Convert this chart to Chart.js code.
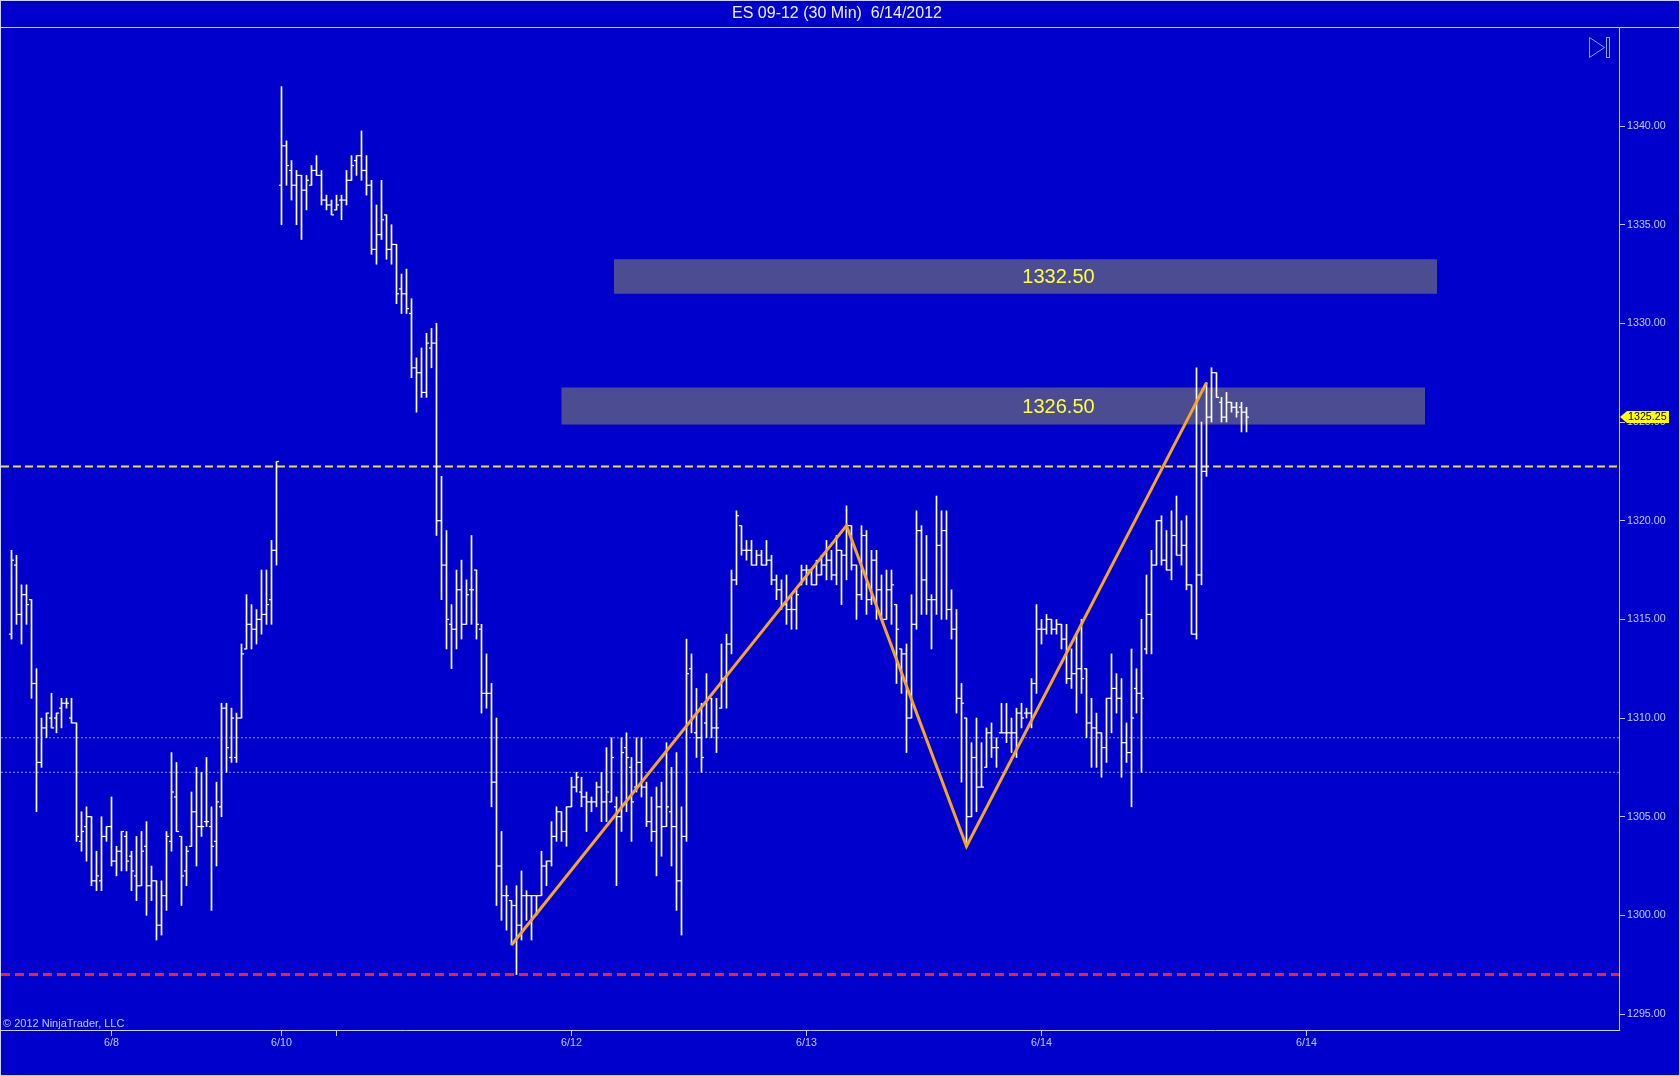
<!DOCTYPE html>
<html>
<head>
<meta charset="utf-8">
<title>ES 09-12 (30 Min) 6/14/2012</title>
<script src="https://cdn.jsdelivr.net/npm/chart.js@4.4.1/dist/chart.umd.min.js"></script>
<style>
    html, body { margin: 0; padding: 0; background: #0000cd; }
    #wrap { width: 1680px; height: 1076px; }
</style>
</head>
<body>
<div id="wrap"><canvas id="myChart" width="1680" height="1076"></canvas></div>
<script>
// 30 min bars, index 0 = first bar on the chart
const opens = [
    1314.25, 1317.75, 1315.25, 1316.25, 1316.0, 1311.75, 1307.75, 1309.5, 1310.0, 1310.0,
    1310.5, 1310.75, 1310.0, 1309.75, 1303.75, 1304.5, 1305.0, 1301.75, 1301.75, 1304.0,
    1304.5, 1302.75, 1303.25, 1304.0, 1303.0, 1302.0, 1301.5, 1303.5, 1301.5, 1301.75,
    1299.5, 1301.0, 1303.75, 1306.0, 1304.0, 1302.25, 1303.5, 1305.25, 1304.5, 1304.75,
    1304.5, 1303.75, 1305.5, 1310.5, 1308.0, 1308.0, 1310.0, 1313.5, 1314.75, 1314.5,
    1315.0, 1315.25, 1316.0, 1318.5, 1337.0, 1339.0, 1337.75, 1337.0, 1337.5, 1336.75,
    1337.0, 1337.75, 1337.5, 1336.25, 1336.0, 1335.75, 1336.25, 1336.25, 1337.25, 1338.25,
    1338.5, 1337.75, 1337.0, 1333.75, 1334.5, 1335.5, 1333.75, 1334.0, 1331.75, 1331.5,
    1330.5, 1327.75, 1327.5, 1326.5, 1328.75, 1329.0, 1320.0, 1317.75, 1314.75, 1314.5,
    1316.5, 1314.75, 1316.5, 1317.5, 1314.5, 1311.25, 1311.25, 1306.75, 1302.5, 1301.0,
    1300.75, 1300.5, 1299.5, 1301.0, 1301.0, 1301.0, 1301.0, 1302.5, 1302.75, 1304.0,
    1305.25, 1304.25, 1305.5, 1306.5, 1306.25, 1306.0, 1305.75, 1305.75, 1306.5, 1305.75,
    1305.75, 1305.5, 1305.0, 1308.5, 1307.5, 1306.5, 1307.75, 1306.5, 1304.75, 1304.25,
    1305.5, 1304.5, 1305.25, 1304.5, 1301.75, 1304.0, 1312.5, 1309.25, 1309.0, 1309.75,
    1311.0, 1309.5, 1310.5, 1312.0, 1313.75, 1317.0, 1319.75, 1318.5, 1318.5, 1317.75,
    1318.25, 1317.75, 1318.0, 1317.0, 1316.5, 1315.75, 1315.5, 1315.5, 1316.75, 1317.5,
    1317.5, 1316.75, 1317.25, 1317.75, 1318.0, 1317.25, 1318.5, 1318.25, 1319.75, 1317.75,
    1316.25, 1319.25, 1316.0, 1318.0, 1316.5, 1315.0, 1316.5, 1315.75, 1313.5, 1313.25,
    1310.0, 1314.75, 1319.5, 1317.0, 1316.0, 1316.0, 1318.75, 1319.5, 1315.5, 1314.5,
    1311.0, 1310.0, 1305.0, 1308.0, 1306.5, 1307.5, 1309.25, 1308.5, 1309.25, 1309.25,
    1309.25, 1309.25, 1310.25, 1310.25, 1310.25, 1311.75, 1314.5, 1314.5, 1315.0, 1314.5,
    1314.75, 1314.0, 1312.0, 1312.25, 1312.5, 1312.5, 1309.75, 1309.5, 1309.25, 1308.5,
    1311.0, 1311.5, 1311.0, 1308.75, 1308.25, 1311.5, 1311.25, 1313.5, 1315.25, 1317.75,
    1320.0, 1318.0, 1317.5, 1319.25, 1318.25, 1318.75, 1316.75, 1314.25, 1317.25, 1322.5,
    1325.25, 1327.5, 1326.0, 1325.25, 1326.0, 1325.75, 1325.75, 1325.5
];
const highs = [
    1318.5, 1318.25, 1316.75, 1316.75, 1316.0, 1312.5, 1310.0, 1310.25, 1311.25, 1310.25,
    1311.0, 1311.0, 1311.0, 1309.75, 1305.25, 1305.5, 1305.0, 1303.25, 1305.0, 1304.5,
    1306.0, 1303.5, 1304.25, 1304.25, 1303.25, 1304.0, 1304.25, 1304.75, 1302.5, 1301.75,
    1301.75, 1304.25, 1308.25, 1307.75, 1304.0, 1303.5, 1306.25, 1307.5, 1307.25, 1308.0,
    1305.5, 1306.75, 1310.75, 1310.75, 1310.5, 1310.25, 1313.75, 1316.25, 1315.75, 1315.5,
    1317.5, 1317.5, 1319.0, 1323.0, 1342.0, 1339.25, 1338.25, 1337.75, 1337.5, 1337.5,
    1338.0, 1338.5, 1337.75, 1336.5, 1336.25, 1336.5, 1336.5, 1337.75, 1338.5, 1338.5,
    1339.75, 1338.5, 1337.25, 1336.0, 1337.25, 1335.5, 1335.0, 1334.0, 1332.5, 1332.75,
    1331.25, 1328.25, 1328.75, 1329.5, 1329.75, 1330.0, 1322.25, 1319.5, 1315.75, 1317.5,
    1318.0, 1317.0, 1319.25, 1317.5, 1314.75, 1313.25, 1311.75, 1310.0, 1304.25, 1301.5,
    1300.75, 1301.5, 1302.25, 1301.25, 1301.0, 1301.0, 1303.25, 1302.75, 1304.75, 1305.5,
    1305.25, 1305.5, 1307.0, 1307.25, 1307.0, 1306.25, 1306.0, 1306.75, 1307.25, 1308.5,
    1309.0, 1306.0, 1309.0, 1309.25, 1308.0, 1309.0, 1309.0, 1306.75, 1306.0, 1306.5,
    1306.75, 1308.75, 1307.5, 1308.25, 1305.5, 1314.0, 1313.25, 1311.5, 1310.75, 1312.25,
    1311.0, 1311.0, 1313.75, 1314.25, 1317.5, 1320.5, 1319.75, 1319.0, 1319.0, 1318.5,
    1318.5, 1319.0, 1318.25, 1317.25, 1317.0, 1317.25, 1316.25, 1316.5, 1317.75, 1317.75,
    1317.5, 1318.0, 1318.25, 1319.0, 1318.5, 1319.25, 1318.5, 1320.75, 1319.75, 1317.75,
    1319.75, 1319.5, 1318.5, 1318.5, 1317.25, 1317.5, 1317.5, 1315.75, 1313.5, 1313.75,
    1316.25, 1320.5, 1319.75, 1319.25, 1316.25, 1321.25, 1320.5, 1320.5, 1316.5, 1315.5,
    1311.75, 1310.0, 1308.75, 1310.0, 1308.75, 1309.5, 1309.75, 1309.0, 1310.75, 1310.75,
    1310.0, 1310.5, 1310.75, 1310.5, 1312.0, 1315.75, 1315.0, 1315.25, 1315.0, 1315.0,
    1314.75, 1314.75, 1313.5, 1314.25, 1315.0, 1312.5, 1311.0, 1310.25, 1309.25, 1311.0,
    1313.25, 1312.25, 1312.0, 1309.75, 1313.5, 1312.5, 1315.0, 1317.25, 1318.5, 1320.0,
    1320.25, 1319.5, 1320.5, 1321.25, 1320.0, 1320.25, 1316.75, 1327.75, 1325.0, 1327.0,
    1327.75, 1327.5, 1326.25, 1326.5, 1326.0, 1326.0, 1326.0, 1325.75
];
const lows = [
    1314.0, 1314.75, 1313.75, 1314.75, 1311.0, 1305.25, 1307.5, 1309.0, 1309.5, 1309.25,
    1309.5, 1310.5, 1309.75, 1303.75, 1303.25, 1302.75, 1301.5, 1301.25, 1301.25, 1303.75,
    1302.5, 1302.0, 1302.25, 1302.25, 1301.25, 1300.75, 1301.5, 1300.0, 1300.75, 1298.75,
    1299.0, 1300.25, 1303.25, 1304.25, 1300.5, 1301.5, 1303.5, 1302.5, 1304.0, 1304.5,
    1300.25, 1302.5, 1305.0, 1307.25, 1307.75, 1307.75, 1310.0, 1313.5, 1313.5, 1313.75,
    1314.25, 1314.75, 1314.75, 1317.75, 1335.0, 1337.0, 1336.25, 1335.0, 1334.25, 1335.75,
    1337.0, 1337.5, 1336.0, 1335.75, 1335.5, 1335.75, 1335.25, 1336.0, 1337.25, 1337.5,
    1337.25, 1336.5, 1333.5, 1333.0, 1334.25, 1333.25, 1333.0, 1331.0, 1330.5, 1330.5,
    1327.25, 1325.5, 1326.25, 1326.25, 1327.75, 1319.25, 1316.0, 1313.5, 1312.5, 1313.5,
    1314.0, 1314.75, 1314.75, 1314.0, 1310.25, 1310.5, 1305.5, 1300.5, 1299.75, 1299.25,
    1298.5, 1297.0, 1298.75, 1299.75, 1298.75, 1300.0, 1301.0, 1301.5, 1302.5, 1303.75,
    1303.75, 1303.5, 1305.5, 1306.25, 1305.5, 1304.25, 1305.25, 1305.5, 1304.75, 1304.75,
    1305.75, 1301.5, 1304.25, 1305.25, 1303.75, 1306.25, 1306.0, 1304.5, 1303.75, 1302.0,
    1303.0, 1304.5, 1302.5, 1300.25, 1299.0, 1303.75, 1309.25, 1308.0, 1307.25, 1309.0,
    1309.0, 1308.25, 1310.5, 1310.5, 1313.25, 1316.75, 1318.25, 1318.0, 1317.75, 1317.75,
    1317.75, 1317.75, 1316.75, 1316.0, 1315.5, 1314.75, 1314.5, 1314.5, 1316.75, 1316.75,
    1316.75, 1316.75, 1317.25, 1317.0, 1317.0, 1316.75, 1315.75, 1317.0, 1317.5, 1315.0,
    1316.0, 1315.25, 1315.75, 1315.0, 1315.0, 1315.0, 1314.75, 1311.75, 1311.25, 1308.25,
    1310.0, 1314.5, 1315.25, 1315.25, 1313.5, 1315.25, 1315.0, 1315.0, 1314.0, 1310.25,
    1306.75, 1303.5, 1305.0, 1305.25, 1306.5, 1307.5, 1308.0, 1307.5, 1309.25, 1308.75,
    1308.25, 1308.0, 1309.5, 1310.0, 1309.5, 1311.25, 1313.75, 1314.25, 1314.25, 1314.25,
    1313.5, 1311.75, 1311.5, 1310.25, 1311.25, 1309.0, 1307.5, 1307.5, 1307.0, 1307.75,
    1309.25, 1310.25, 1307.0, 1307.75, 1305.5, 1310.25, 1307.25, 1313.25, 1313.25, 1317.75,
    1317.75, 1317.5, 1317.0, 1318.25, 1317.75, 1316.5, 1314.25, 1314.0, 1316.75, 1322.25,
    1325.0, 1326.25, 1325.0, 1325.0, 1325.5, 1325.25, 1324.5, 1324.5
];
const closes = [
    1318.0, 1315.25, 1316.25, 1315.75, 1311.75, 1307.75, 1309.5, 1310.25, 1309.5, 1310.25,
    1310.75, 1310.75, 1309.75, 1304.0, 1304.25, 1305.0, 1301.75, 1302.0, 1304.0, 1304.5,
    1302.75, 1303.25, 1304.25, 1302.75, 1302.25, 1301.5, 1303.25, 1301.5, 1301.75, 1299.5,
    1301.0, 1304.0, 1306.25, 1304.25, 1302.0, 1303.25, 1305.25, 1304.5, 1304.5, 1304.75,
    1303.5, 1305.75, 1310.5, 1308.5, 1310.0, 1310.0, 1313.25, 1314.75, 1314.5, 1315.0,
    1315.25, 1315.75, 1318.5, 1323.0, 1339.0, 1338.0, 1337.0, 1337.5, 1336.75, 1337.25,
    1337.75, 1337.5, 1336.25, 1336.0, 1335.5, 1336.0, 1336.25, 1337.25, 1338.0, 1338.5,
    1337.75, 1337.0, 1333.75, 1334.5, 1335.25, 1333.75, 1334.0, 1331.5, 1331.5, 1330.75,
    1327.75, 1327.5, 1326.5, 1329.0, 1329.0, 1320.0, 1317.75, 1315.0, 1314.5, 1316.5,
    1314.75, 1316.25, 1316.5, 1314.75, 1311.25, 1311.25, 1306.75, 1302.5, 1301.0, 1301.0,
    1300.5, 1299.5, 1301.0, 1301.0, 1301.0, 1301.0, 1302.5, 1302.75, 1304.0, 1305.25,
    1304.25, 1305.5, 1306.5, 1307.0, 1306.0, 1305.75, 1305.75, 1306.5, 1305.75, 1306.25,
    1308.0, 1305.0, 1308.25, 1308.0, 1305.75, 1307.75, 1306.5, 1304.75, 1304.25, 1305.5,
    1304.5, 1305.5, 1304.5, 1301.75, 1304.0, 1312.25, 1310.0, 1309.0, 1308.0, 1311.0,
    1309.5, 1309.5, 1312.0, 1313.75, 1317.0, 1320.25, 1318.5, 1318.5, 1317.75, 1318.25,
    1317.75, 1318.0, 1317.0, 1316.5, 1315.75, 1315.5, 1315.5, 1316.25, 1317.5, 1317.5,
    1316.75, 1317.25, 1317.75, 1318.0, 1317.25, 1318.5, 1318.25, 1319.75, 1317.75, 1316.25,
    1319.25, 1316.0, 1318.0, 1316.5, 1315.0, 1316.5, 1316.75, 1314.5, 1313.25, 1310.0,
    1314.75, 1319.5, 1317.0, 1316.0, 1316.0, 1318.75, 1319.5, 1315.5, 1314.5, 1311.0,
    1310.75, 1305.0, 1308.0, 1306.5, 1306.5, 1309.25, 1308.5, 1308.5, 1309.25, 1309.25,
    1309.25, 1310.25, 1310.0, 1310.25, 1311.75, 1314.5, 1314.5, 1315.0, 1314.5, 1314.75,
    1314.0, 1312.0, 1312.25, 1312.5, 1312.0, 1309.75, 1309.5, 1309.25, 1308.5, 1311.0,
    1311.5, 1311.0, 1308.75, 1308.25, 1310.0, 1311.25, 1311.0, 1315.25, 1317.75, 1320.0,
    1318.0, 1317.5, 1319.25, 1318.25, 1318.75, 1316.75, 1314.25, 1317.25, 1322.5, 1325.25,
    1327.5, 1326.25, 1325.25, 1326.0, 1325.75, 1325.5, 1325.5, 1325.25
];

// zigzag swing points (bar index, price)
const zigzagIdx = [100, 167, 191, 239];
const zigzagPrice = [1298.5, 1319.75, 1303.5, 1327.0];

// drawn levels
const yellowLevel = 1322.75;
const redLevel = 1297.0;
const dotLevels = [1309.0, 1307.25];

// zones
const zoneText = ['1332.50', '1326.50'];
const zoneTop = [1333.25, 1326.75];
const zoneBottom = [1331.5, 1324.875];
const zoneFrom = [120.5, 110.0];
const zoneTo = [285.1, 282.7];
const zoneLabelAt = 209.4;

// axes
const xTickIdx = [20, 54, 65, 112, 159, 206, 259];
const xTickLabels = ['6/8', '6/10', '', '6/12', '6/13', '6/14', '6/14'];
const yTicks = [1295, 1300, 1305, 1310, 1315, 1320, 1325, 1330, 1335, 1340];

const xMin = -2.1, xMax = 321.5;
const yMin = 1294.19, yMax = 1345.02;

const blue = '#0000cd';
const lavender = 'rgb(196,200,255)';
const font = "'Liberation Sans', Arial, sans-serif";
Chart.defaults.font.family = font;

function flat(level) {
    return [{x: xMin, y: level}, {x: xMax, y: level}];
}

const frame = {
    id: 'frame',
    beforeDraw(chart) {
        const c = chart.ctx;
        c.save();
        c.fillStyle = blue;
        c.fillRect(0, 0, chart.width, chart.height);
        c.restore();
    },
    beforeDatasetsDraw(chart) {
        const c = chart.ctx, x = chart.scales.x, y = chart.scales.y;
        c.save();
        for (let k = 0; k < zoneText.length; k++) {
            const l = x.getPixelForValue(zoneFrom[k]), r = x.getPixelForValue(zoneTo[k]);
            const t = y.getPixelForValue(zoneTop[k]), b = y.getPixelForValue(zoneBottom[k]);
            c.fillStyle = 'rgb(76,76,146)';
            c.fillRect(l, t, r - l, b - t);
            c.fillStyle = '#ffff3c';
            c.font = '20px ' + font;
            c.textAlign = 'center';
            c.textBaseline = 'middle';
            c.fillText(zoneText[k], x.getPixelForValue(zoneLabelAt), (t + b) / 2 + 1);
        }
        c.restore();
    },
    afterDraw(chart) {
        const c = chart.ctx, a = chart.chartArea, y = chart.scales.y;
        c.save();
        // title + separator
        c.fillStyle = '#f0f0ff';
        c.font = '16px ' + font;
        c.textAlign = 'center';
        c.textBaseline = 'middle';
        c.fillText('ES 09-12 (30 Min)  6/14/2012', 837, 14);
        c.strokeStyle = 'rgb(205,210,245)';
        c.lineWidth = 1;
        c.beginPath();
        c.moveTo(0, a.top + 0.5);
        c.lineTo(chart.width, a.top + 0.5);
        c.stroke();
        c.strokeRect(0.5, 0.5, chart.width - 1, chart.height - 1);

        // copyright
        c.fillStyle = lavender;
        c.font = '11px ' + font;
        c.textAlign = 'left';
        c.fillText('\u00a9 2012 NinjaTrader, LLC', 3, a.bottom - 6);

        // play-to-end icon
        c.strokeStyle = 'rgb(150,160,255)';
        c.beginPath();
        c.moveTo(1589.5, 37.5);
        c.lineTo(1604.5, 47.5);
        c.lineTo(1589.5, 57.5);
        c.closePath();
        c.stroke();
        c.strokeRect(1606.5, 37.5, 3, 20);

        // last price marker
        const last = closes[closes.length - 1];
        const py = Math.round(y.getPixelForValue(last));
        const px = a.right + 1;
        c.fillStyle = '#ffff00';
        c.beginPath();
        c.moveTo(px, py);
        c.lineTo(px + 7, py - 6);
        c.lineTo(px + 49, py - 6);
        c.lineTo(px + 49, py + 6);
        c.lineTo(px + 7, py + 6);
        c.closePath();
        c.fill();
        c.fillStyle = '#000000';
        c.font = '10.7px ' + font;
        c.textAlign = 'left';
        c.fillText(last.toFixed(2), px + 8, py + 0.5);
        c.restore();
    }
};

const ctx = document.getElementById('myChart').getContext('2d');
const config = {
    type: 'bar',
    data: {
        datasets: [
            {
                type: 'line',
                data: zigzagIdx.map((v, k) => ({x: v, y: zigzagPrice[k]})),
                borderColor: 'rgb(245,165,40)',
                borderWidth: 3,
                pointRadius: 0,
                order: 0
            },
            {
                type: 'scatter',
                data: opens.map((v, i) => ({x: i - 0.25, y: v})),
                pointStyle: 'line',
                pointRadius: 1.3,
                pointBorderColor: '#ffffff',
                pointBorderWidth: 1.2,
                order: 1
            },
            {
                type: 'scatter',
                data: closes.map((v, i) => ({x: i + 0.25, y: v})),
                pointStyle: 'line',
                pointRadius: 1.3,
                pointBorderColor: '#ffffff',
                pointBorderWidth: 1.2,
                order: 1
            },
            {
                type: 'bar',
                data: lows.map((v, i) => ({x: i, y: [v, highs[i]]})),
                backgroundColor: '#ffffff',
                borderWidth: 0,
                barThickness: 1,
                order: 2
            },
            {
                type: 'line',
                data: flat(yellowLevel),
                borderColor: 'rgb(235,225,70)',
                borderWidth: 2,
                borderDash: [8, 4],
                pointRadius: 0,
                order: 3
            },
            {
                type: 'line',
                data: flat(redLevel),
                borderColor: 'rgb(250,30,40)',
                borderWidth: 3,
                borderDash: [9, 5],
                pointRadius: 0,
                order: 3
            },
            {
                type: 'line',
                data: flat(dotLevels[0]),
                borderColor: 'rgb(110,150,255)',
                borderWidth: 1,
                borderDash: [2, 2],
                pointRadius: 0,
                order: 3
            },
            {
                type: 'line',
                data: flat(dotLevels[1]),
                borderColor: 'rgb(110,150,255)',
                borderWidth: 1,
                borderDash: [2, 2],
                pointRadius: 0,
                order: 3
            }
        ]
    },
    options: {
        responsive: false,
        animation: false,
        devicePixelRatio: 1,
        events: [],
        layout: {autoPadding: false, padding: {left: 1, top: 27, right: 0, bottom: 0}},
        plugins: {
            legend: {display: false},
            tooltip: {enabled: false}
        },
        scales: {
            x: {
                type: 'linear',
                min: xMin,
                max: xMax,
                offset: false,
                afterBuildTicks: axis => { axis.ticks = xTickIdx.map(v => ({value: v})); },
                afterFit: axis => {
                    axis.height = 46;
                    axis.paddingLeft = 0;
                    axis.paddingRight = 0;
                },
                grid: {offset: false, drawOnChartArea: false, drawTicks: true, tickLength: 6, color: lavender},
                border: {display: true, color: 'rgb(205,210,245)'},
                ticks: {
                    autoSkip: false,
                    maxRotation: 0,
                    padding: 1,
                    color: lavender,
                    font: {size: 10.7},
                    callback: (v, i) => xTickLabels[i]
                }
            },
            y: {
                type: 'linear',
                position: 'right',
                min: yMin,
                max: yMax,
                beginAtZero: false,
                afterBuildTicks: axis => { axis.ticks = yTicks.map(v => ({value: v})); },
                afterFit: axis => {
                    axis.width = 61;
                    axis.paddingTop = 0;
                    axis.paddingBottom = 0;
                },
                grid: {drawOnChartArea: false, drawTicks: true, tickLength: 6, color: lavender},
                border: {display: true, color: 'rgb(205,210,245)'},
                ticks: {
                    padding: 2,
                    color: lavender,
                    font: {size: 10.7},
                    callback: v => v.toFixed(2)
                }
            }
        }
    },
    plugins: [frame]
};
const myChart = new Chart(ctx, config);
</script>
</body>
</html>
